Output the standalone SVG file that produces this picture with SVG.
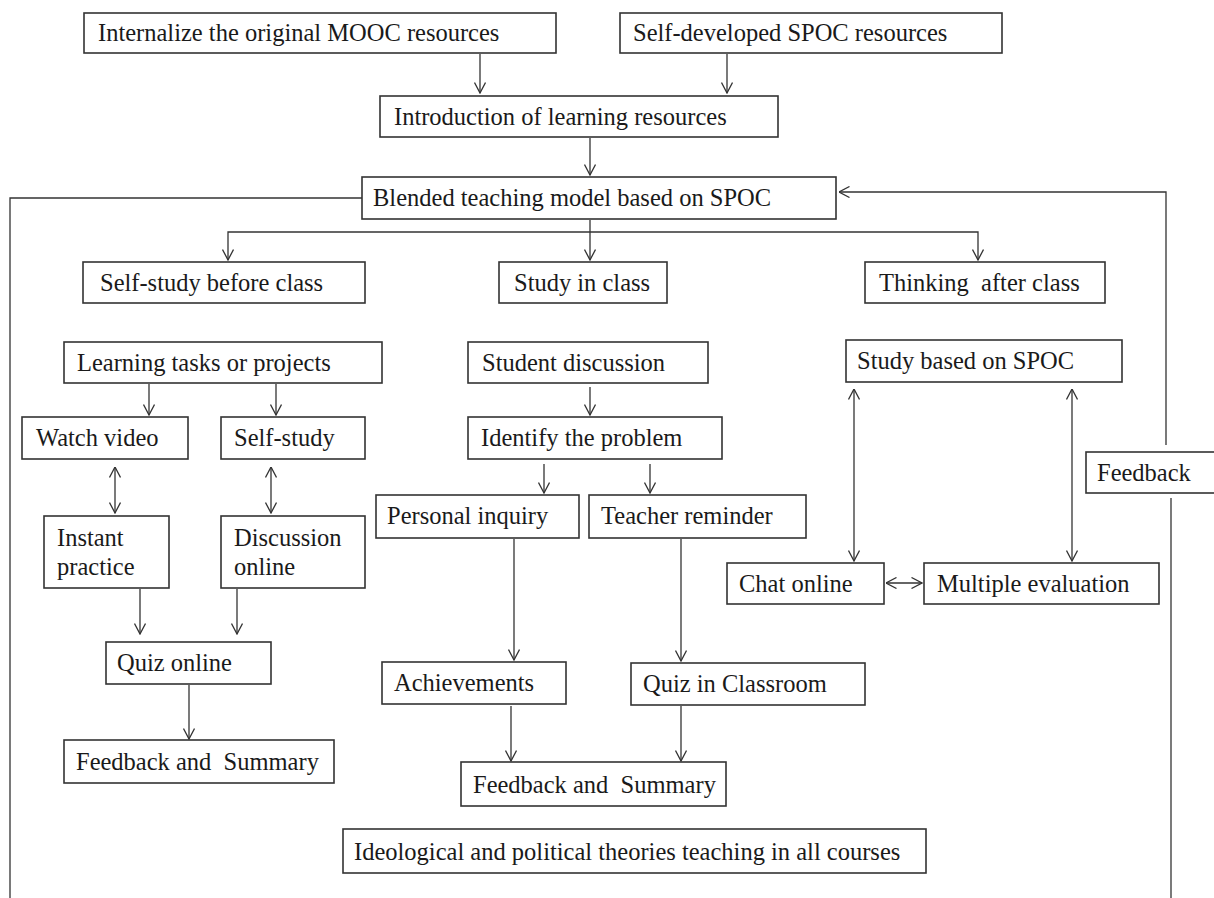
<svg xmlns="http://www.w3.org/2000/svg" width="1214" height="898" viewBox="0 0 1214 898">
<style>
.box{fill:#fff;stroke:#333;stroke-width:1.6}
.t{font-family:"Liberation Serif","Times New Roman",serif;font-size:24.5px;fill:#1a1a1a}
.c{fill:none;stroke:#333;stroke-width:1.3}
</style>
<defs>
<marker id="ah" viewBox="0 0 12 12" refX="11.5" refY="6" markerWidth="12" markerHeight="12" markerUnits="userSpaceOnUse" orient="auto-start-reverse">
<path d="M1,0.5 L11.5,6 L1,11.5" fill="none" stroke="#333" stroke-width="1.3"/>
</marker>
</defs>
<rect width="1214" height="898" fill="#fff"/>
<g id="connectors">
<path class="c" d="M480,54 V93" marker-end="url(#ah)"/>
<path class="c" d="M727,54 V93" marker-end="url(#ah)"/>
<path class="c" d="M590,138 V175" marker-end="url(#ah)"/>
<path class="c" d="M590,220 V260" marker-end="url(#ah)"/>
<path class="c" d="M228,260 V232 H978 V260" marker-start="url(#ah)" marker-end="url(#ah)"/>
<path class="c" d="M362,198 H10 V898"/>
<path class="c" d="M1171,898 V498"/>
<path class="c" d="M1166,445 V192 H839" marker-end="url(#ah)"/>
<path class="c" d="M149,384 V415" marker-end="url(#ah)"/>
<path class="c" d="M276,384 V415" marker-end="url(#ah)"/>
<path class="c" d="M115,467 V513" marker-start="url(#ah)" marker-end="url(#ah)"/>
<path class="c" d="M271,467 V513" marker-start="url(#ah)" marker-end="url(#ah)"/>
<path class="c" d="M140,589 V634" marker-end="url(#ah)"/>
<path class="c" d="M237,589 V634" marker-end="url(#ah)"/>
<path class="c" d="M189,685 V739" marker-end="url(#ah)"/>
<path class="c" d="M590,387 V415" marker-end="url(#ah)"/>
<path class="c" d="M544,464 V493" marker-end="url(#ah)"/>
<path class="c" d="M650,464 V493" marker-end="url(#ah)"/>
<path class="c" d="M514,539 V660" marker-end="url(#ah)"/>
<path class="c" d="M681,539 V661" marker-end="url(#ah)"/>
<path class="c" d="M511,706 V761" marker-end="url(#ah)"/>
<path class="c" d="M681,706 V761" marker-end="url(#ah)"/>
<path class="c" d="M854,389 V561" marker-start="url(#ah)" marker-end="url(#ah)"/>
<path class="c" d="M1072,389 V561" marker-start="url(#ah)" marker-end="url(#ah)"/>
<path class="c" d="M886,583 H922" marker-start="url(#ah)" marker-end="url(#ah)"/>
</g>
<g id="n-internalize"><rect class="box" x="84" y="13" width="472" height="40"/><text class="t" x="98" y="41">Internalize the original MOOC resources</text></g>
<g id="n-selfdev"><rect class="box" x="620" y="13" width="382" height="40"/><text class="t" x="633" y="41">Self-developed SPOC resources</text></g>
<g id="n-intro"><rect class="box" x="380" y="96" width="398" height="41"/><text class="t" x="394" y="125">Introduction of learning resources</text></g>
<g id="n-blended"><rect class="box" x="362" y="177" width="474" height="42"/><text class="t" x="373" y="206">Blended teaching model based on SPOC</text></g>
<g id="n-before"><rect class="box" x="83" y="262" width="282" height="41"/><text class="t" x="100" y="291">Self-study before class</text></g>
<g id="n-inclass"><rect class="box" x="499" y="262" width="168" height="41"/><text class="t" x="514" y="291">Study in class</text></g>
<g id="n-after"><rect class="box" x="865" y="262" width="240" height="41"/><text class="t" x="879" y="291" xml:space="preserve">Thinking  after class</text></g>
<g id="n-tasks"><rect class="box" x="64" y="342" width="318" height="41"/><text class="t" x="77" y="371">Learning tasks or projects</text></g>
<g id="n-watch"><rect class="box" x="22" y="417" width="166" height="42"/><text class="t" x="36" y="446">Watch video</text></g>
<g id="n-selfstudy"><rect class="box" x="221" y="417" width="144" height="42"/><text class="t" x="234" y="446">Self-study</text></g>
<g id="n-instant"><rect class="box" x="44" y="516" width="125" height="72"/><text class="t" x="57" y="546">Instant</text><text class="t" x="57" y="575">practice</text></g>
<g id="n-discussion"><rect class="box" x="221" y="516" width="144" height="72"/><text class="t" x="234" y="546">Discussion</text><text class="t" x="234" y="575">online</text></g>
<g id="n-quizonline"><rect class="box" x="106" y="642" width="165" height="42"/><text class="t" x="117" y="671">Quiz online</text></g>
<g id="n-feedback-left"><rect class="box" x="64" y="740" width="270" height="43"/><text class="t" x="76" y="770" xml:space="preserve">Feedback and  Summary</text></g>
<g id="n-studentdisc"><rect class="box" x="468" y="342" width="240" height="41"/><text class="t" x="482" y="371">Student discussion</text></g>
<g id="n-identify"><rect class="box" x="468" y="417" width="254" height="42"/><text class="t" x="481" y="446">Identify the problem</text></g>
<g id="n-personal"><rect class="box" x="376" y="495" width="203" height="43"/><text class="t" x="387" y="524">Personal inquiry</text></g>
<g id="n-teacher"><rect class="box" x="589" y="495" width="217" height="43"/><text class="t" x="601" y="524">Teacher reminder</text></g>
<g id="n-achieve"><rect class="box" x="382" y="662" width="184" height="42"/><text class="t" x="394" y="691">Achievements</text></g>
<g id="n-quizclass"><rect class="box" x="631" y="663" width="234" height="42"/><text class="t" x="643" y="692">Quiz in Classroom</text></g>
<g id="n-feedback-mid"><rect class="box" x="461" y="762" width="265" height="44"/><text class="t" x="473" y="793" xml:space="preserve">Feedback and  Summary</text></g>
<g id="n-ideological"><rect class="box" x="343" y="829" width="583" height="44"/><text class="t" x="354" y="860">Ideological and political theories teaching in all courses</text></g>
<g id="n-studyspoc"><rect class="box" x="846" y="340" width="276" height="42"/><text class="t" x="857" y="369">Study based on SPOC</text></g>
<g id="n-chat"><rect class="box" x="727" y="563" width="157" height="41"/><text class="t" x="739" y="592">Chat online</text></g>
<g id="n-multi"><rect class="box" x="924" y="563" width="235" height="41"/><text class="t" x="937" y="592">Multiple evaluation</text></g>
<g id="n-feedback"><rect class="box" x="1086" y="452" width="135" height="41"/><text class="t" x="1097" y="481">Feedback</text></g>
</svg>
